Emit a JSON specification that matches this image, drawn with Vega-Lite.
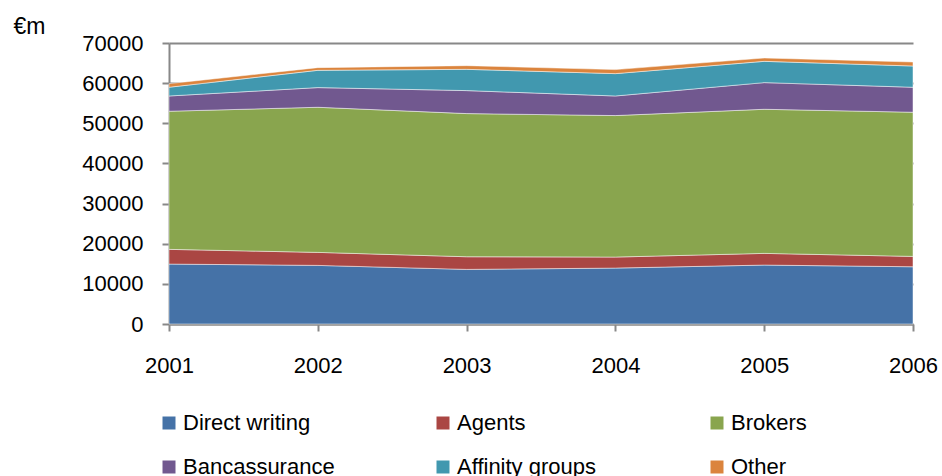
{
  "$schema": "https://vega.github.io/schema/vega-lite/v6.json",
  "width": 744,
  "height": 281,
  "autosize": {"type": "none"},
  "padding": {"left": 169, "top": 43, "right": 29, "bottom": 152},
  "background": "white",
  "config": {
    "view": {"stroke": null},
    "font": "Liberation Sans",
    "axis": {"labelFont": "Liberation Sans", "labelFontSize": 22, "labelColor": "#000000", "domainColor": "#888888", "tickColor": "#888888", "domainWidth": 2, "tickWidth": 2}
  },
  "data": {
    "values": [
      {"year": 2001, "channel": "Direct writing", "k": 1, "value": 14930},
      {"year": 2002, "channel": "Direct writing", "k": 1, "value": 14600},
      {"year": 2003, "channel": "Direct writing", "k": 1, "value": 13600},
      {"year": 2004, "channel": "Direct writing", "k": 1, "value": 13930},
      {"year": 2005, "channel": "Direct writing", "k": 1, "value": 14680},
      {"year": 2006, "channel": "Direct writing", "k": 1, "value": 14260},
      {"year": 2001, "channel": "Agents", "k": 2, "value": 3660},
      {"year": 2002, "channel": "Agents", "k": 2, "value": 3240},
      {"year": 2003, "channel": "Agents", "k": 2, "value": 3150},
      {"year": 2004, "channel": "Agents", "k": 2, "value": 2740},
      {"year": 2005, "channel": "Agents", "k": 2, "value": 2910},
      {"year": 2006, "channel": "Agents", "k": 2, "value": 2580},
      {"year": 2001, "channel": "Brokers", "k": 3, "value": 34410},
      {"year": 2002, "channel": "Brokers", "k": 3, "value": 36150},
      {"year": 2003, "channel": "Brokers", "k": 3, "value": 35670},
      {"year": 2004, "channel": "Brokers", "k": 3, "value": 35250},
      {"year": 2005, "channel": "Brokers", "k": 3, "value": 35900},
      {"year": 2006, "channel": "Brokers", "k": 3, "value": 35910},
      {"year": 2001, "channel": "Bancassurance", "k": 4, "value": 3800},
      {"year": 2002, "channel": "Bancassurance", "k": 4, "value": 4900},
      {"year": 2003, "channel": "Bancassurance", "k": 4, "value": 5720},
      {"year": 2004, "channel": "Bancassurance", "k": 4, "value": 4880},
      {"year": 2005, "channel": "Bancassurance", "k": 4, "value": 6640},
      {"year": 2006, "channel": "Bancassurance", "k": 4, "value": 6220},
      {"year": 2001, "channel": "Affinity groups", "k": 5, "value": 2170},
      {"year": 2002, "channel": "Affinity groups", "k": 5, "value": 4300},
      {"year": 2003, "channel": "Affinity groups", "k": 5, "value": 5300},
      {"year": 2004, "channel": "Affinity groups", "k": 5, "value": 5570},
      {"year": 2005, "channel": "Affinity groups", "k": 5, "value": 5300},
      {"year": 2006, "channel": "Affinity groups", "k": 5, "value": 5300},
      {"year": 2001, "channel": "Other", "k": 6, "value": 900},
      {"year": 2002, "channel": "Other", "k": 6, "value": 670},
      {"year": 2003, "channel": "Other", "k": 6, "value": 920},
      {"year": 2004, "channel": "Other", "k": 6, "value": 1000},
      {"year": 2005, "channel": "Other", "k": 6, "value": 830},
      {"year": 2006, "channel": "Other", "k": 6, "value": 990}
    ]
  },
  "mark": {"type": "area", "stroke": "#ffffff", "strokeWidth": 0.8, "strokeOpacity": 0.6},
  "encoding": {
    "x": {
      "field": "year",
      "type": "quantitative",
      "scale": {"domain": [2001, 2006], "nice": false, "zero": false},
      "axis": {"values": [2001, 2002, 2003, 2004, 2005, 2006], "format": "d", "title": null, "grid": false, "tickSize": 7, "labelPadding": 24, "labelFlush": false}
    },
    "y": {
      "field": "value",
      "type": "quantitative",
      "stack": "zero",
      "scale": {"domain": [0, 70000], "nice": false},
      "axis": {
        "values": [0, 10000, 20000, 30000, 40000, 50000, 60000, 70000],
        "format": "d",
        "grid": true,
        "gridColor": "#888888",
        "gridWidth": 2,
        "tickSize": 7,
        "labelPadding": 19,
        "title": "€m",
        "titleAngle": 0,
        "titleFont": "Liberation Sans",
        "titleFontSize": 23,
        "titleFontWeight": "normal",
        "titleColor": "#000000",
        "titleAlign": "left",
        "titleBaseline": "middle",
        "titleX": -156,
        "titleY": -17
      }
    },
    "order": {"field": "k", "type": "quantitative", "sort": "ascending"},
    "color": {
      "field": "channel",
      "type": "nominal",
      "scale": {
        "domain": ["Direct writing", "Agents", "Brokers", "Bancassurance", "Affinity groups", "Other"],
        "range": ["#4572A7", "#AA4643", "#89A54E", "#71588F", "#4198AF", "#DB843D"]
      },
      "legend": {
        "title": null,
        "orient": "none",
        "legendX": -11,
        "legendY": 369,
        "direction": "horizontal",
        "columns": 3,
        "gridAlign": "all",
        "columnPadding": 97,
        "rowPadding": 22,
        "padding": 0,
        "symbolType": "square",
        "symbolSize": 169,
        "symbolStrokeWidth": 0,
        "symbolOffset": 0,
        "labelOffset": 3,
        "labelFont": "Liberation Sans",
        "labelFontSize": 22,
        "labelColor": "#000000",
        "labelLimit": 300
      }
    }
  }
}
